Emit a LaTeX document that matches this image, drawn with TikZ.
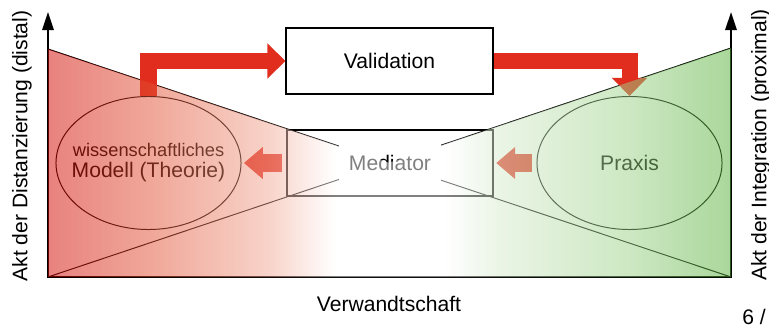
\documentclass[tikz,border=0pt]{standalone}
\usepackage{fontspec}
\setmainfont{Liberation Sans}
\usepackage{xcolor}
\usepackage{tikz}
\usetikzlibrary{arrows.meta}
\usetikzlibrary{shapes.geometric}

\definecolor{rotA}{RGB}{210,5,0}
\definecolor{rotB}{RGB}{225,80,50}
\definecolor{rotC}{RGB}{241,165,145}
\definecolor{gruenA}{RGB}{85,175,55}
\definecolor{gruenB}{RGB}{155,209,135}
\definecolor{gruenC}{RGB}{215,235,205}
\definecolor{pfeilrot}{RGB}{224,45,30}

% red - white band - green, stretched over the 25bp..75bp part
\pgfdeclarehorizontalshading{verlauf}{100bp}{color(0bp)=(rotA); color(25bp)=(rotA);
  color(32.5bp)=(rotB); color(41bp)=(rotC); color(46bp)=(white); color(54bp)=(white);
  color(58bp)=(gruenC); color(67.5bp)=(gruenB); color(75bp)=(gruenA); color(100bp)=(gruenA)}

\begin{document}
\begin{tikzpicture}[x=0.025cm,y=-0.025cm,
  every node/.style={font=\fontsize{15}{15}\selectfont},
  achse/.style={line width=1.6pt,
    {Triangle[length=0.45cm,width=0.28cm]}-{Triangle[length=0.45cm,width=0.28cm]}},
  diagonale/.style={line width=0.7pt},
  oval/.style={ellipse,draw,line width=0.7pt,minimum width=4.625cm,
    minimum height=3.325cm,inner sep=0pt},
  kasten/.style={draw,minimum width=5.15cm,minimum height=1.64cm},
  grosspfeil/.style={draw=pfeilrot,line width=0.4cm,
    -{Triangle[length=0.45cm,width=0.85cm]}},
  kleinpfeil/.style={draw=pfeilrot,line width=0.425cm,
    -{Triangle[length=0.475cm,width=0.775cm]},
    shorten <=0.1cm,shorten >=0.06cm}]
\useasboundingbox (0,0) rectangle (769,328);

\coordinate (tl) at (48,49);
\coordinate (bl) at (48,277);
\coordinate (br) at (731,277);
\coordinate (tr) at (731,48);
\coordinate (ltop) at (48,12);
\coordinate (rtop) at (731,12);
\coordinate (kreuz) at (intersection of tl--br and bl--tr);

% axes and the two diagonals
\draw[achse] (ltop) -- (bl) -- (br) -- (rtop);
\draw[diagonale] (tl) -- (br);
\draw[diagonale] (bl) -- (tr);

% mediator in the middle
\node[kasten,line width=1.1pt] (med) at (390,163) {};
\node[fill=white,minimum width=2.55cm,minimum height=0.95cm] (medtext) at (med) {Mediator};

\node[oval] (modell) at (148.5,163) {};
\node[align=center] (modelltext) at (modell)
  {{\fontsize{13}{15}\selectfont wissenschaftliches}\\Modell (Theorie)};
\node[oval] (praxis) at (629.5,163) {Praxis};

\node[kasten,fill=white,line width=1.4pt] (valid) at (389.5,61) {Validation};

\draw[grosspfeil] (modell.north) |- (valid.west);
\draw[grosspfeil] (valid.east) -| (praxis.north);
\draw[kleinpfeil] (med.west) -- (modell.east);
\draw[kleinpfeil] (praxis.west) -- (med.east);

% colour wash over the lower part
\shade[shading=verlauf,fill opacity=0.5]
  (tl) -- (kreuz) -- (tr) -- (br) -- (bl) -- cycle;

\node[rotate=90] (distlabel) at (22,146) {Akt der Distanzierung (distal)};
\node[rotate=90] (intlabel) at (761,145) {Akt der Integration (proximal)};
\node (verw) at (389,304) {Verwandtschaft};
\node (seite) at (754,317) {6 /};
\end{tikzpicture}
\end{document}
